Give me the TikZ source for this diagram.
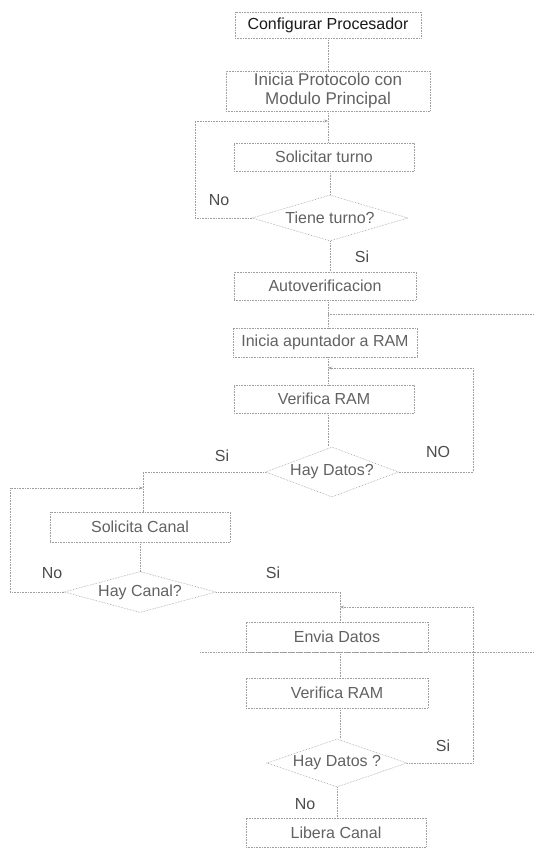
\documentclass[tikz,border=0pt]{standalone}
\usepackage{fontspec}
\setmainfont{Liberation Sans}
\usetikzlibrary{shapes.geometric,arrows.meta}
\begin{document}
\begin{tikzpicture}[x=1pt,y=-1pt,
  every node/.style={font=\fontsize{16}{19}\selectfont, text=black!62},
  stepbox/.style={draw=black!38, densely dotted, line width=0.6pt, rectangle, inner sep=0pt, align=center},
  decbox/.style={draw=black!38, densely dotted, line width=0.6pt, diamond, inner sep=0pt, shape aspect=3.4},
  conn/.style={draw=black!38, densely dotted, line width=0.6pt},
  arr/.style={conn, -{Stealth[length=4pt,width=3pt]}},
  lbl/.style={text=black!70}]
\useasboundingbox (0,0) rectangle (534,862);
% boxes
\node[stepbox, minimum width=186, minimum height=26, text=black!90] (cfg) at (328,25) {Configurar Procesador};
\node[stepbox, minimum width=204, minimum height=40, font=\fontsize{17}{19}\selectfont] (ini) at (328,91) {Inicia Protocolo con\\Modulo Principal};
\node[stepbox, minimum width=180, minimum height=28] (sol) at (324,157) {Solicitar turno};
\node[decbox, minimum width=156, minimum height=46] (tt) at (330,218) {Tiene turno?};
\node[stepbox, minimum width=182, minimum height=28] (auto) at (325,286) {Autoverificacion};
\node[stepbox, minimum width=184, minimum height=29] (iar) at (325,342.5) {Inicia apuntador a RAM};
\node[stepbox, minimum width=180, minimum height=28] (vr1) at (324,399) {Verifica RAM};
\node[decbox, minimum width=130, minimum height=50] (hd1) at (332,472) {Hay Datos?};
\node[stepbox, minimum width=180, minimum height=30] (sc) at (140,527) {Solicita Canal};
\node[decbox, minimum width=152, minimum height=41] (hc) at (140,592) {Hay Canal?};
\node[stepbox, minimum width=182, minimum height=30] (env) at (337,637) {Envia Datos};
\node[stepbox, minimum width=182, minimum height=30] (vr2) at (337,693) {Verifica RAM};
\node[decbox, minimum width=140, minimum height=48] (hd2) at (337,763) {Hay Datos ?};
\node[stepbox, minimum width=180, minimum height=29] (lib) at (336,832.5) {Libera Canal};
% coordinates
\coordinate (j1) at (328,121);
\coordinate (c1) at (195,121);
\coordinate (e1) at (534,314);
\coordinate (j2) at (328,368);
\coordinate (c2) at (473,472);
\coordinate (c3) at (143,472);
\coordinate (j4) at (143,488);
\coordinate (c4) at (10,592);
\coordinate (c5) at (340,592);
\coordinate (j6) at (340,607);
\coordinate (c6) at (473,763);
\coordinate (f1) at (200,652);
\coordinate (f2) at (534,652);
% connectors
\draw[conn] (cfg.south) -- (cfg.south |- ini.north);
\draw[conn] (ini.south -| j1) -- (j1 |- sol.north);
\draw[arr] (tt.west) -| (c1) -- (j1);
\draw[conn] (sol.south -| tt.north) -- (tt.north);
\draw[conn] (tt.south) -- (tt.south |- auto.north);
\draw[conn] (auto.south -| j2) -- (j2 |- iar.north);
\draw[conn] (j2 |- e1) -- (e1);
\draw[conn] (iar.south -| j2) -- (j2 |- vr1.north);
\draw[arr] (hd1.east) -- (c2) |- (j2);
\draw[conn] (vr1.south -| j2) -- (j2 |- hd1.north);
\draw[conn] (hd1.west) -- (c3) -- (c3 |- sc.north);
\draw[conn] (sc.south) -- (hc.north);
\draw[arr] (hc.west) -- (c4) |- (j4);
\draw[conn] (hc.east) -- (c5) -- (c5 |- env.north);
\draw[arr] (hd2.east) -- (c6) |- (j6);
\draw[conn] (f1) -- (f2);
\draw[conn] (env.south -| j6) -- (j6 |- vr2.north);
\draw[conn] (vr2.south -| j6) -- (j6 |- hd2.north);
\draw[conn] (hd2.south) -- (hd2.south |- lib.north);
% labels
\node[lbl] (l1) at (219,200) {No};
\node[lbl] (l2) at (362,257) {Si};
\node[lbl] (l3) at (222,456) {Si};
\node[lbl] (l4) at (438,452) {NO};
\node[lbl] (l5) at (52,573) {No};
\node[lbl] (l6) at (273,573) {Si};
\node[lbl] (l7) at (443,746) {Si};
\node[lbl] (l8) at (305,804) {No};
\end{tikzpicture}
\end{document}
